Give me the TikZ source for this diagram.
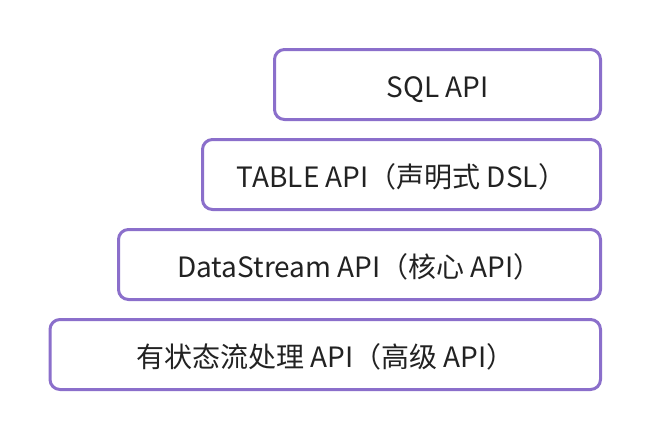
\documentclass[tikz,border=0pt]{standalone}
\usepackage{fontspec}
\setmainfont{Noto Sans CJK SC}
\definecolor{layerpurple}{HTML}{8B6FCB}
\definecolor{layertext}{HTML}{222222}
\tikzset{
    layer/.style={draw=layerpurple, line width=3pt, rounded corners=10pt,
        minimum height=70pt, inner sep=0pt, text=layertext,
        text height=25pt, text depth=0pt,
        font=\fontsize{28}{32}\selectfont},
}
\begin{document}
\begin{tikzpicture}[x=1pt, y=-1pt]
        \useasboundingbox (0, 0) rectangle (652, 442);
        \node[layer, minimum width=326pt] (sql) at (437.5, 84.5) {SQL API};
        \node[layer, minimum width=398pt] (table) at (401.5, 174.5) {TABLE API（声明式 DSL）};
        \node[layer, minimum width=482pt] (datastream) at (359.5, 264.5) {DataStream API（核心 API）};
        \node[layer, minimum width=550.5pt] (stateful) at (325.25, 354.5) {有状态流处理 API（高级 API）};
    \end{tikzpicture}
\end{document}
